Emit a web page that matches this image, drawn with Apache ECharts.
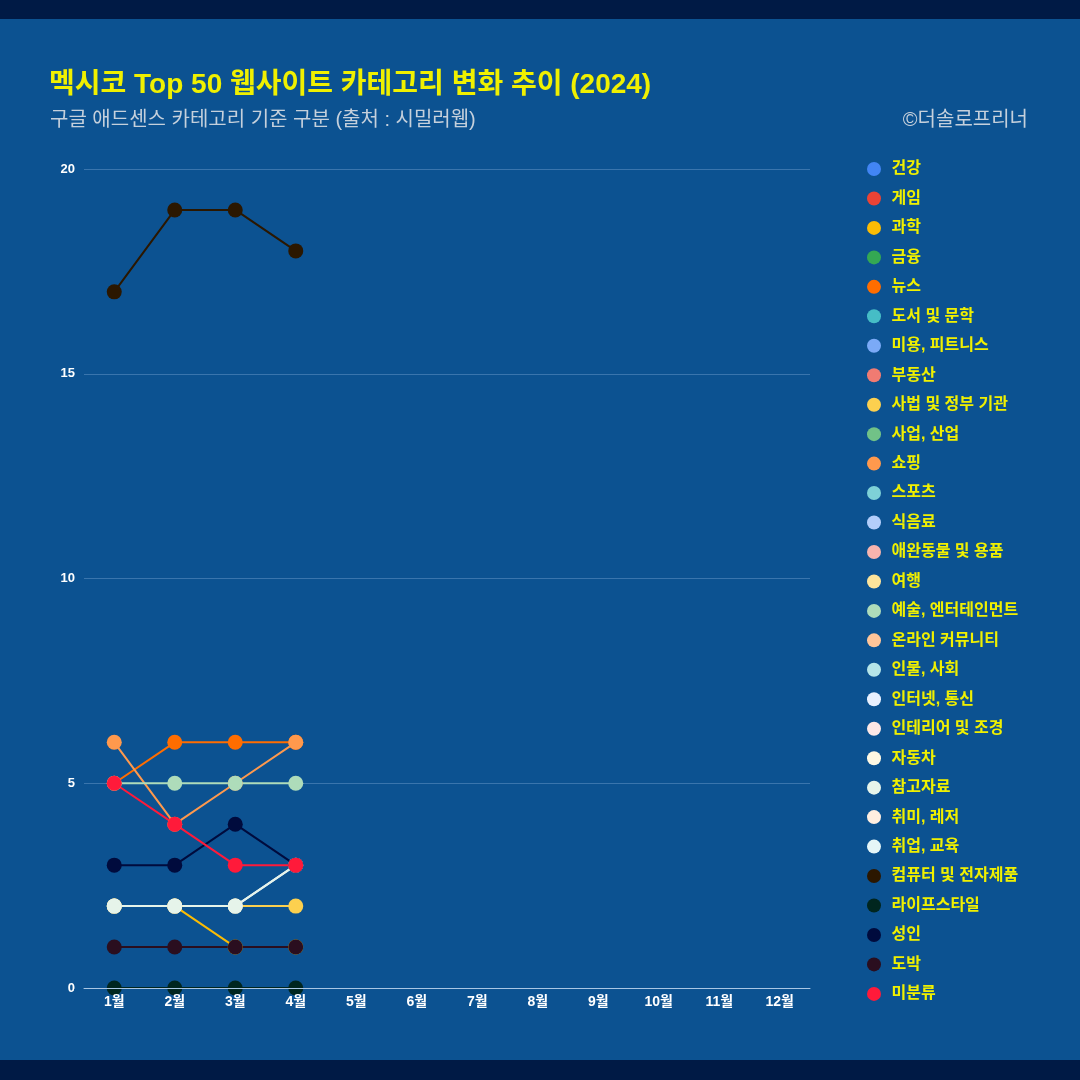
<!DOCTYPE html>
<html><head><meta charset="utf-8">
<script src="https://cdn.jsdelivr.net/npm/echarts@6/dist/echarts.min.js"></script>
<style>html,body{margin:0;padding:0;background:#0c5291;}#c{width:1080px;height:1080px;}</style>
</head><body><div id="c"></div>
<script>
const months = ['1월','2월','3월','4월','5월','6월','7월','8월','9월','10월','11월','12월'];
const yTicks = [0, 5, 10, 15, 20];
const categories = ['건강','게임','과학','금융','뉴스','도서 및 문학','미용, 피트니스','부동산','사법 및 정부 기관','사업, 산업','쇼핑','스포츠','식음료','애완동물 및 용품','여행','예술, 엔터테인먼트','온라인 커뮤니티','인물, 사회','인터넷, 통신','인테리어 및 조경','자동차','참고자료','취미, 레저','취업, 교육','컴퓨터 및 전자제품','라이프스타일','성인','도박','미분류'];
const colors = ['#4285f4','#ea4335','#fbbc04','#34a853','#ff6d00','#46bdc6','#7baaf7','#f07b72','#fcd04f','#71c287','#ff994d','#7ed1d7','#b3cefb','#f7b4ae','#fde49b','#aedcba','#ffc599','#b5e5e8','#e8f0fe','#fde8e6','#fef8e3','#e6f4ea','#ffeee0','#e6f6f7','#2b1700','#00261f','#000b3d','#2a0e1f','#ff1a3a'];
// values per category for 1월..4월 (null = no data)
const v_건강 = [null,null,null,null];
const v_게임 = [null,null,null,null];
const v_과학 = [2,2,1,1];
const v_금융 = [null,null,null,null];
const v_뉴스 = [5,6,6,6];
const v_도서 = [null,null,null,null];
const v_미용 = [null,null,null,null];
const v_부동산 = [null,null,null,null];
const v_사법 = [2,2,2,2];
const v_사업 = [null,null,null,null];
const v_쇼핑 = [6,4,5,6];
const v_스포츠 = [null,null,null,null];
const v_식음료 = [null,null,null,null];
const v_애완 = [null,null,null,null];
const v_여행 = [null,null,null,null];
const v_예술 = [5,5,5,5];
const v_온라인 = [null,null,null,null];
const v_인물 = [null,null,null,null];
const v_인터넷 = [2,2,2,3];
const v_인테리어 = [null,null,null,null];
const v_자동차 = [null,null,null,null];
const v_참고자료 = [2,2,2,3];
const v_취미 = [null,null,null,null];
const v_취업 = [null,null,null,null];
const v_컴퓨터 = [17,19,19,18];
const v_라이프 = [0,0,0,0];
const v_성인 = [3,3,4,3];
const v_도박 = [1,1,1,1];
const v_미분류 = [5,4,3,3];
const values = [v_건강,v_게임,v_과학,v_금융,v_뉴스,v_도서,v_미용,v_부동산,v_사법,v_사업,v_쇼핑,v_스포츠,v_식음료,v_애완,v_여행,v_예술,v_온라인,v_인물,v_인터넷,v_인테리어,v_자동차,v_참고자료,v_취미,v_취업,v_컴퓨터,v_라이프,v_성인,v_도박,v_미분류];

const FONT = '"Liberation Sans", "Noto Sans CJK KR", sans-serif';
const BG = '#0c5291';
const GRID = { left: 84, right: 270, top: 169, bottom: 92 };
const chart = echarts.init(document.getElementById('c'));
chart.setOption({
  animation: false,
  backgroundColor: BG,
  color: colors,
  textStyle: { fontFamily: FONT },
  graphic: [
    { type: 'rect', left: 0, top: 0, shape: { width: 1080, height: 19 }, style: { fill: '#001a45' } },
    { type: 'rect', left: 0, top: 1060, shape: { width: 1080, height: 20 }, style: { fill: '#001a45' } },
    // mask below the plot area (marks are clipped at the x axis in the reference)
    { type: 'rect', z: 3, left: GRID.left - 10, top: 1080 - GRID.bottom + 1,
      shape: { width: 1080 - GRID.left - GRID.right + 20, height: 8 }, style: { fill: BG } }
  ],
  title: [
    { text: '멕시코 Top 50 웹사이트 카테고리 변화 추이 (2024)', left: 44, top: 66,
      textStyle: { color: '#f0f000', fontSize: 28, fontWeight: 'bold', fontFamily: FONT } },
    { text: '구글 애드센스 카테고리 기준 구분 (출처 : 시밀러웹)', left: 45, top: 105,
      textStyle: { color: '#c5d0dc', fontSize: 20, fontWeight: 'normal', fontFamily: FONT } },
    { text: '©더솔로프리너', right: 47, top: 105,
      textStyle: { color: '#c5d0dc', fontSize: 20, fontWeight: 'normal', fontFamily: FONT } }
  ],
  legend: {
    orient: 'vertical', left: 862, top: 156,
    icon: 'circle', itemWidth: 25, itemHeight: 14, itemGap: 13.46,
    textStyle: { color: '#f0f000', fontSize: 16, fontWeight: 'bold', fontFamily: FONT },
    data: categories
  },
  grid: { left: GRID.left, right: GRID.right, top: GRID.top, bottom: GRID.bottom, containLabel: false },
  xAxis: {
    type: 'category', data: months, boundaryGap: true, z: 4,
    axisLine: { lineStyle: { color: '#a9c6e4', width: 1 } },
    axisTick: { show: false },
    axisLabel: { color: '#ffffff', fontSize: 14, fontWeight: 'bold', margin: 7 }
  },
  yAxis: {
    type: 'value', min: yTicks[0], max: yTicks[yTicks.length-1], interval: 5,
    axisLine: { show: false }, axisTick: { show: false },
    axisLabel: { color: '#ffffff', fontSize: 13, fontWeight: 'bold', margin: 9 },
    splitLine: { lineStyle: { color: '#3a75ad', width: 1 } }
  },
  series: categories.map((name, i) => ({
    name, type: 'line', data: values[i].concat(Array(8).fill(null)),
    symbol: 'circle', symbolSize: 15, showSymbol: true,
    lineStyle: { width: 2, color: colors[i] },
    itemStyle: { color: colors[i] },
    emphasis: { disabled: true }
  }))
});
</script></body></html>
